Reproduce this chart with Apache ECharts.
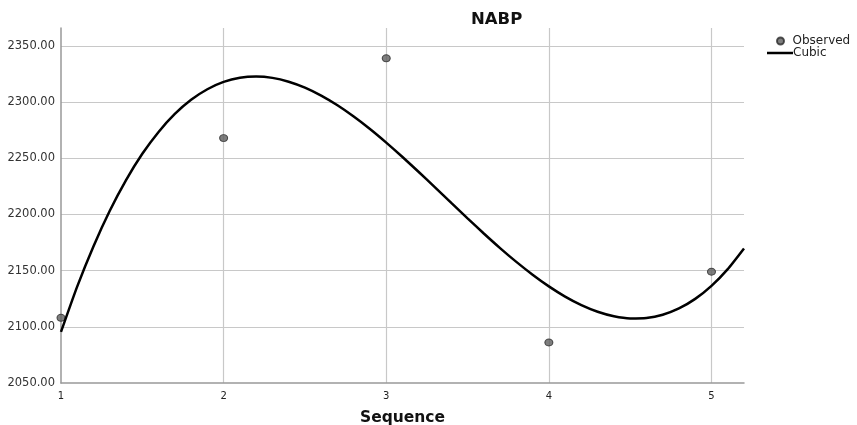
<!DOCTYPE html>
<html><head><meta charset="utf-8">
<script src="https://cdn.jsdelivr.net/npm/echarts@6/dist/echarts.min.js"></script>
<style>html,body{margin:0;padding:0;background:#fff}#c{width:857px;height:425px}</style>
</head><body><div id="c"></div>
<script>
const titleText = 'NABP';
const xName = 'Sequence';
const observedX = [1, 2, 3, 4, 5];
const observedY = [2108, 2268, 2339, 2086, 2149];
const curveX = [1.0,1.1,1.2,1.3,1.4,1.5,1.6,1.7,1.8,1.9,2.0,2.1,2.2,2.3,2.4,2.5,2.6,2.7,2.8,2.9,3.0,3.1,3.2,3.3,3.4,3.5,3.6,3.7,3.8,3.9,4.0,4.1,4.2,4.3,4.4,4.5,4.6,4.7,4.8,4.9,5.0,5.1,5.2];
const curveY = [2095.5,2136.0,2171.8,2203.3,2230.6,2254.0,2273.5,2289.5,2302.1,2311.5,2318.0,2321.7,2322.8,2321.6,2318.2,2312.9,2305.8,2297.2,2287.2,2276.1,2264.0,2251.2,2237.8,2224.2,2210.3,2196.6,2183.1,2170.1,2157.8,2146.4,2136.0,2126.9,2119.3,2113.4,2109.4,2107.5,2107.9,2110.8,2116.4,2124.9,2136.5,2151.4,2169.8];
const yMin = 2050, yMax = 2366, yStep = 50;
const xMin = 1, xMax = 5.2, xStep = 1;

const chart = echarts.init(document.getElementById('c'));
const font = 'DejaVu Sans, Liberation Sans, Arial, sans-serif';
chart.setOption({
  animation: false,
  backgroundColor: '#fff',
  textStyle: { fontFamily: font },
  title: { text: titleText, left: 466, top: 6, textStyle: { fontSize: 16.5, fontWeight: 'bold', color: '#111', fontFamily: font } },
  grid: { left: 61, right: 113, top: 28, bottom: 42, outerBoundsMode: 'none', containLabel: false },
  legend: [
    { data: [{ name: 'Observed', icon: 'circle' }], orient: 'vertical', left: 771, top: 30, itemWidth: 8, itemHeight: 7, itemGap: 2,
      textStyle: { fontSize: 12, color: '#222', fontFamily: font, padding: [0,0,0,3] } },
    { data: [{ name: 'Cubic', icon: 'rect', itemStyle: { color: '#000' } }], orient: 'vertical', left: 762, top: 42, itemWidth: 26, itemHeight: 2.5, itemGap: 2,
      textStyle: { fontSize: 12, color: '#222', fontFamily: font, padding: [0,0,0,-5] } }
  ],
  xAxis: {
    type: 'value', min: xMin, max: xMax, interval: xStep,
    name: xName, nameLocation: 'middle', nameGap: 27,
    nameTextStyle: { fontSize: 15.5, fontWeight: 'bold', color: '#111', fontFamily: font },
    axisLine: { show: true, lineStyle: { color: '#999', width: 1.5 } },
    axisTick: { show: false },
    axisLabel: { fontSize: 10, color: '#222', showMaxLabel: false, margin: 8, formatter: v => String(v) },
    splitLine: { show: true, showMinLine: false, showMaxLine: false, lineStyle: { color: '#c8c8c8', width: 1.2 } }
  },
  yAxis: {
    type: 'value', min: yMin, max: yMax, interval: yStep,
    axisLine: { show: true, lineStyle: { color: '#999', width: 1.5 } },
    axisTick: { show: false },
    axisLabel: { fontSize: 11.5, color: '#333', showMaxLabel: false, margin: 6, formatter: v => v.toFixed(2) },
    splitLine: { show: true, showMinLine: false, showMaxLine: false, lineStyle: { color: '#c8c8c8', width: 1.2 } }
  },
  series: [
    { name: 'Observed', type: 'scatter', data: observedX.map((x, i) => [x, observedY[i]]),
      symbol: 'circle', symbolSize: [8, 7],
      itemStyle: { color: '#5e5e5e', borderColor: '#2a2a2a', borderWidth: 1 }, z: 3 },
    { name: 'Cubic', type: 'line', data: curveX.map((x, i) => [x, curveY[i]]),
      smooth: 0.2, symbol: 'none', showSymbol: false,
      lineStyle: { color: '#000', width: 2.5 }, itemStyle: { color: '#000' }, z: 4 }
  ]
});
</script></body></html>
